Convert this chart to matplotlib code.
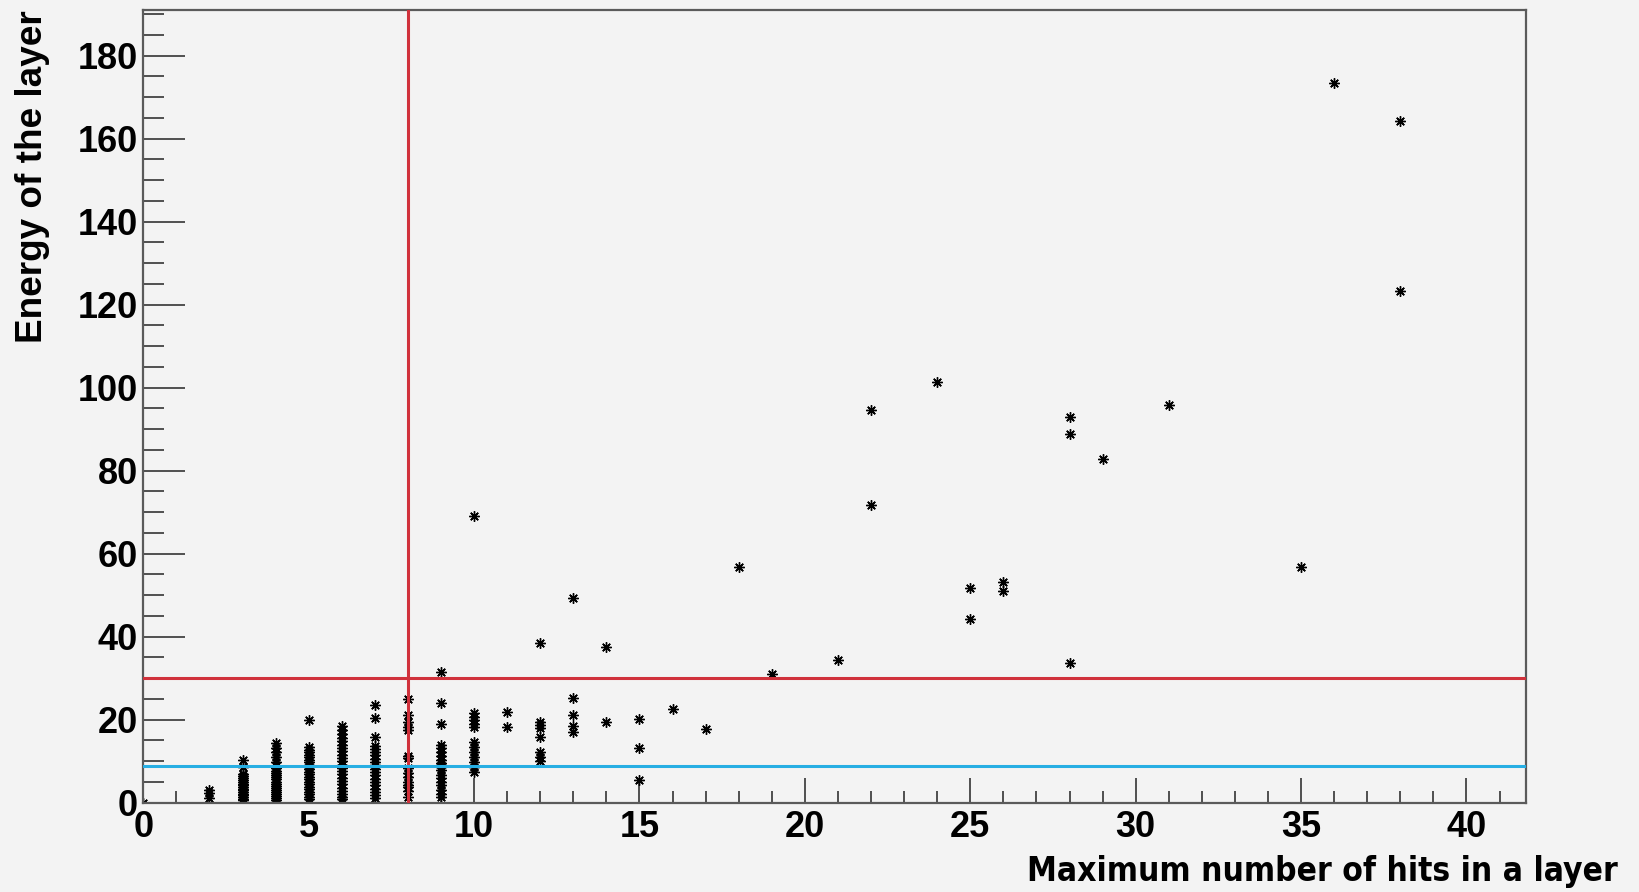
import numpy as np
import matplotlib
matplotlib.use("Agg")
import matplotlib.pyplot as plt
from matplotlib import font_manager
from matplotlib.ticker import MultipleLocator

# ---- data: energy of the layer, grouped by max number of hits ----
energy_at_0 = [0.0]
energy_at_2 = [3.0, 2.3, 1.2]
energy_at_3 = [10.2, 8.6, 7.0, 6.4, 5.9, 5.5, 5.0, 4.6, 4.2, 3.8, 3.4, 3.0, 2.6, 2.2,
               1.8, 1.4, 1.0, 0.7]
energy_at_4 = [14.3, 13.1, 12.3, 11.1, 9.9, 8.9, 8.3, 7.7, 7.1, 6.6, 6.1, 5.6, 5.1, 4.6,
               4.1, 3.6, 3.1, 2.6, 2.1, 1.6, 1.1, 0.7]
energy_at_5 = [19.9, 13.4, 12.8, 12.2, 11.6, 11.0, 10.4, 9.8, 9.2, 8.6, 8.0, 7.4, 6.8,
               6.2, 5.6, 5.0, 4.4, 3.8, 3.2, 2.6, 2.0, 1.4, 0.9]
energy_at_6 = [18.6, 17.6, 16.6, 15.6, 14.8, 14.0, 13.2, 12.4, 11.6, 10.8, 10.0, 9.2,
               8.4, 7.6, 6.8, 6.0, 5.2, 4.4, 3.6, 2.8, 2.0, 1.3, 0.8]
energy_at_7 = [23.6, 20.4, 15.9, 13.6, 12.9, 12.2, 11.4, 10.6, 9.8, 9.0, 8.2, 7.4, 6.6,
               5.8, 5.0, 4.2, 3.4, 2.6, 1.8, 1.1]
energy_at_8 = [24.9, 21.1, 19.5, 18.3, 17.4, 11.3, 10.7, 8.3, 7.1, 6.3, 5.1, 4.2, 3.7,
               2.7, 1.4]
energy_at_9 = [31.6, 24.1, 19.0, 13.9, 13.1, 12.3, 11.3, 10.3, 9.5, 9.1, 8.7, 7.9, 6.7,
               5.9, 5.1, 4.3, 3.1, 2.1, 1.4]
energy_at_10 = [69.0, 21.5, 20.7, 19.9, 19.0, 18.2, 14.7, 13.5, 12.3, 11.1, 9.9, 8.7, 7.5]
energy_at_11 = [21.8, 18.2]
energy_at_12 = [38.5, 19.5, 18.7, 17.9, 15.8, 12.3, 11.1, 10.1]
energy_at_13 = [49.4, 25.3, 21.1, 18.5, 17.1]
energy_at_14 = [37.6, 19.4]
energy_at_15 = [20.1, 13.1, 5.5]
energy_at_16 = [22.6]
energy_at_17 = [17.8]

# sparse high-hit events
sparse_hits = [18, 19, 21, 22, 22, 24, 25, 25, 26, 26, 28, 28, 28, 29, 31, 35, 36, 38, 38]
sparse_energy = [56.7, 30.9, 34.4, 94.6, 71.7, 101.4, 51.7, 44.2, 53.1, 51.1,
                 92.9, 88.8, 33.6, 82.9, 95.8, 56.8, 173.5, 164.2, 123.3]

# selection cuts
hits_cut = 8
energy_cut_high = 30
energy_cut_low = 8.8

columns = {0: energy_at_0, 2: energy_at_2, 3: energy_at_3, 4: energy_at_4,
           5: energy_at_5, 6: energy_at_6, 7: energy_at_7, 8: energy_at_8,
           9: energy_at_9, 10: energy_at_10, 11: energy_at_11, 12: energy_at_12,
           13: energy_at_13, 14: energy_at_14, 15: energy_at_15, 16: energy_at_16,
           17: energy_at_17}
xs, ys = [], []
for h, vals in columns.items():
    xs += [h] * len(vals)
    ys += vals
xs += sparse_hits
ys += sparse_energy

# ---- fonts ----
names = {f.name for f in font_manager.fontManager.ttflist}
main_font = "Liberation Sans" if "Liberation Sans" in names else "DejaVu Sans"
plt.rcParams["font.family"] = [main_font, "DejaVu Sans"]

# a narrow bold face for the x title, if one is installed
narrow_prop = None
for f in font_manager.fontManager.ttflist:
    is_narrow = ("Narrow" in f.name or "Condensed" in f.name
                 or f.stretch in ("condensed", "semi-condensed", "extra-condensed"))
    wt = f.weight if isinstance(f.weight, int) else 700 * (f.weight == "bold")
    if is_narrow and wt >= 600 and f.style == "normal":
        narrow_prop = font_manager.FontProperties(fname=f.fname)
        break

bg = "#f3f3f3"
W, H = 1639, 892
fig = plt.figure(figsize=(W / 100, H / 100), dpi=100, facecolor=bg)
ax = fig.add_axes([143.3 / W, 1 - 802.7 / H, (1526 - 143.3) / W, (802.7 - 10) / H])
ax.set_facecolor(bg)

ax.plot(xs, ys, linestyle="none", marker=(8, 2, 0), markersize=7.5,
        markeredgewidth=1.0, color="black", zorder=2)

ax.axvline(hits_cut, color="#d0313b", lw=2.2, zorder=3)
ax.axhline(energy_cut_high, color="#d0313b", lw=2.2, zorder=3)
ax.axhline(energy_cut_low, color="#27aee3", lw=2.2, zorder=3)

ax.set_xlim(0, 41.8)
ax.set_ylim(0, 191)

ax.xaxis.set_major_locator(MultipleLocator(5))
ax.xaxis.set_minor_locator(MultipleLocator(1))
ax.yaxis.set_major_locator(MultipleLocator(20))
ax.yaxis.set_minor_locator(MultipleLocator(5))

for s in ax.spines.values():
    s.set_color("#5a5a5a")
    s.set_linewidth(1.6)

ax.tick_params(axis="x", which="major", direction="in", length=18, width=1.2,
               color="#333333", pad=5, labelsize=26)
ax.tick_params(axis="x", which="minor", direction="in", length=9, width=1.2, color="#333333")
ax.tick_params(axis="y", which="major", direction="in", length=30, width=1.2,
               color="#333333", pad=4, labelsize=26)
ax.tick_params(axis="y", which="minor", direction="in", length=15, width=1.2, color="#333333")
for lab in ax.get_xticklabels() + ax.get_yticklabels():
    lab.set_fontweight("bold")

if narrow_prop is not None:
    xt = fig.text(1618 / W, 1 - 881 / H, "Maximum number of hits in a layer",
                  ha="right", va="baseline", fontproperties=narrow_prop, fontsize=30)
else:
    xt = fig.text(1618 / W, 1 - 881 / H, "Maximum number of hits in a layer",
                  ha="right", va="baseline", fontsize=30, fontweight="bold")
yt = fig.text(15 / W, 1 - 10 / H, "Energy of the layer", rotation=90,
              ha="left", va="top", fontsize=27, fontweight="bold")

# fit the titles to the lengths seen in the original
renderer = fig.canvas.get_renderer()
w_now = xt.get_window_extent(renderer).width
xt.set_fontsize(min(30, 30 * 591 / w_now))
h_now = yt.get_window_extent(renderer).height
yt.set_fontsize(27 * 332 / h_now)

fig.savefig("out.png", dpi=100, facecolor=bg)
